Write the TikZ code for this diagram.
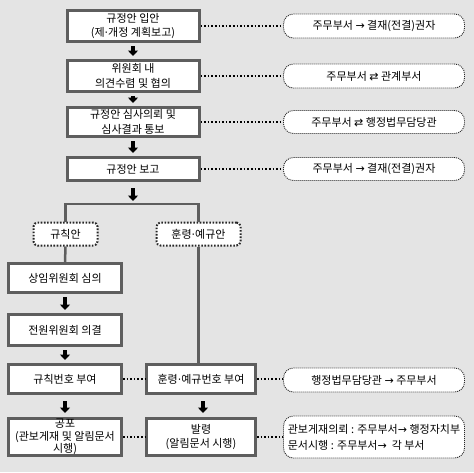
\documentclass[tikz,border=0pt]{standalone}
\usepackage{fontspec}
\setmainfont{Noto Sans CJK KR}
\newfontfamily\symfont{DejaVu Sans}
\newcommand{\myra}{{\symfont\char"2192}}
\newcommand{\mylr}{{\symfont\char"21C4}}
\newcommand{\mydot}{{\symfont\char"00B7}}
\usetikzlibrary{arrows.meta}
\definecolor{bgc}{HTML}{E4E4E4}
\definecolor{bord}{HTML}{5E5E5E}
\tikzset{
 mainbox/.style={draw=bord, line width=3pt, fill=white, align=center, inner sep=0pt,
   font=\fontsize{11}{14.5}\selectfont},
 notebox/.style={draw=black!85, line width=0.9pt, dash pattern=on 1pt off 1pt, fill=white,
   rounded corners=10pt, align=center, inner sep=0pt, minimum width=181pt,
   font=\fontsize{11}{16}\selectfont},
 tagbox/.style={draw=black!85, line width=2pt, dash pattern=on 1.6pt off 1.6pt, fill=white,
   rounded corners=4pt, inner sep=0pt, minimum height=23pt, font=\fontsize{11}{13}\selectfont},
 conn/.style={draw=bord, line width=2.5pt},
 dotconn/.style={draw=black, line width=1.6pt, dash pattern=on 1.6pt off 2pt},
 bigarrow/.style={draw=black, line width=4pt, -{Triangle[width=10pt,length=5.5pt]}},
}
\begin{document}
\begin{tikzpicture}[x=1pt,y=-1pt]
\fill[bgc] (0,0) rectangle (474,472);
\useasboundingbox (0,0) rectangle (474,472);

% main column
\node[mainbox, minimum width=132pt, minimum height=31pt] (b1) at (133,26) {규정안 입안\\(제\mydot 개정 계획보고)};
\node[mainbox, minimum width=132pt, minimum height=31pt] (b2) at (133,76) {위원회 내\\의견수렴 및 협의};
\node[mainbox, minimum width=132pt, minimum height=29pt] (b3) at (133,122) {규정안 심사의뢰 및\\심사결과 통보};
\node[mainbox, minimum width=132pt, minimum height=23pt] (b4) at (133,169) {규정안 보고};

% notes
\node[notebox, minimum height=24pt] (n1) at (374,26) {주무부서 \myra\ 결재(전결)권자};
\node[notebox, minimum height=24pt] (n2) at (374,76) {주무부서 \mylr\ 관계부서};
\node[notebox, minimum height=23pt] (n3) at (374,122) {주무부서 \mylr\ 행정법무담당관};
\node[notebox, minimum height=23pt] (n4) at (374,169) {주무부서 \myra\ 결재(전결)권자};

\coordinate (split) at (133,204);

% tags
\node[tagbox, minimum width=64pt] (t1) at (65.5,234) {규칙안};
\node[tagbox, minimum width=84pt] (t2) at (198.5,234) {훈령\mydot 예규안};

% left column
\node[mainbox, minimum width=113pt, minimum height=29pt] (c1) at (65,278) {상임위원회 심의};
\node[mainbox, minimum width=113pt, minimum height=31pt] (c2) at (65,330) {전원위원회 의결};
\node[mainbox, minimum width=113pt, minimum height=29pt] (c3) at (65,379) {규칙번호 부여};
\node[mainbox, minimum width=113pt, minimum height=37pt, font=\fontsize{11}{12.5}\selectfont] (c4) at (65,437) {공포\\(관보게재 및 알림문서\\시행)};

% right column
\node[mainbox, minimum width=109pt, minimum height=29pt] (d3) at (201,379) {훈령\mydot 예규번호 부여};
\node[mainbox, minimum width=109pt, minimum height=37pt] (d4) at (201,437) {발령\\(알림문서 시행)};

\node[notebox, minimum height=24pt] (n5) at (374,380) {행정법무담당관 \myra\ 주무부서};
\node[notebox, minimum height=42pt, align=left] (n6) at (374,437) {관보게재의뢰 : 주무부서\myra\ 행정자치부\\문서시행 : 주무부서\myra\ \ 각 부서};

% arrows
\draw[bigarrow] ([yshift=-3pt]b1.south) -- ([yshift=3pt]b2.north);
\draw[bigarrow] ([yshift=-3pt]b2.south) -- ([yshift=3pt]b3.north);
\draw[bigarrow] ([yshift=-3pt]b3.south) -- ([yshift=3pt]b4.north);
\draw[bigarrow] ([yshift=-6pt]b4.south) -- ([yshift=3pt]split);
\draw[bigarrow] ([yshift=-3pt]c1.south) -- ([yshift=3pt]c2.north);
\draw[bigarrow] ([yshift=-3pt]c2.south) -- ([yshift=3pt]c3.north);
\draw[bigarrow] ([yshift=-6pt]c3.south) -- ([yshift=4pt]c4.north);
\draw[bigarrow] ([xshift=2pt,yshift=-6pt]d3.south) -- ([xshift=2pt,yshift=4pt]d4.north);

% solid connectors
\draw[conn] (t1.north) |- (split) -| (t2.north);
\draw[conn] (t1.south) -- (c1.north);
\draw[conn] (t2.south) -- (t2.south |- d3.north);

% dotted connectors
\draw[dotconn] (b1.east) -- (n1.west);
\draw[dotconn] (b2.east) -- (n2.west);
\draw[dotconn] (b3.east) -- (n3.west);
\draw[dotconn] (b4.east) -- (n4.west);
\draw[dotconn] (c3.east) -- (d3.west);
\draw[dotconn] (d3.east) -- (n5.west |- d3.east);
\draw[dotconn] (c4.east) -- (d4.west);
\draw[dotconn] (d4.east) -- (n6.west);
\end{tikzpicture}
\end{document}
